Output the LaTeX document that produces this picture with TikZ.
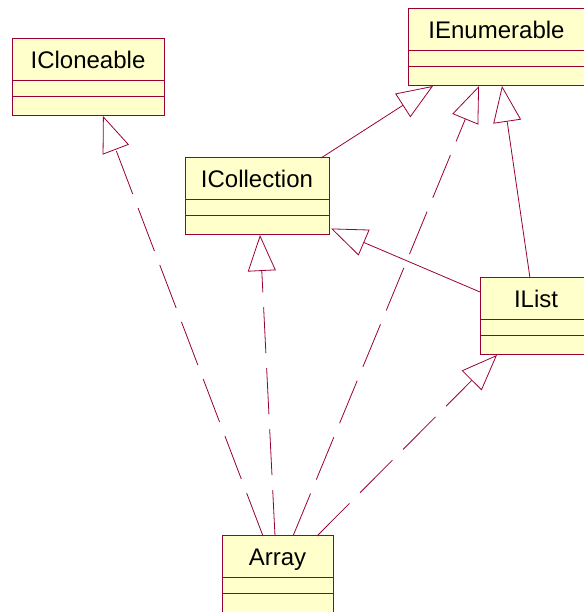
\documentclass[tikz,border=0pt]{standalone}
\usepackage{fontspec}
\setmainfont{Liberation Sans}
\usepackage{xcolor}
\usetikzlibrary{arrows.meta, positioning}

\definecolor{umlred}{HTML}{990033}
\definecolor{umlfill}{HTML}{FFFFCC}

\begin{document}
\begin{tikzpicture}[
    x=1pt, y=1pt,
    cls/.style={rectangle, draw=umlred, fill=umlfill, line width=1pt, outer sep=0pt, inner sep=0pt, minimum height=42pt, text height=17pt, text depth=0pt, font=\fontsize{24}{28}\selectfont},
    cmp/.style={rectangle, draw=umlred, fill=umlfill, line width=1pt, outer sep=0pt, inner sep=0pt, minimum height=16pt},
    cmpb/.style={cmp, minimum height=19pt},
    gen/.style={-{Triangle[open, length=36pt, width=28pt]}, draw=umlred, line width=0.8pt},
    impl/.style={gen, dash pattern=on 46pt off 15pt},
]
    \useasboundingbox (0,0) rectangle (583,612);

    % Interfaces
    \node[cls, minimum width=152pt] (clone) at (88,552) {ICloneable};
    \node[cmp, minimum width=152pt, below=0pt of clone] (clone1) {};
    \node[cmpb, minimum width=152pt, below=0pt of clone1] (clone2) {};

    \node[cls, minimum width=177pt] (enum) at (496.5,582) {IEnumerable};
    \node[cmp, minimum width=177pt, below=0pt of enum] (enum1) {};
    \node[cmpb, minimum width=177pt, below=0pt of enum1] (enum2) {};

    \node[cls, minimum width=144pt] (coll) at (257,433) {ICollection};
    \node[cmp, minimum width=144pt, below=0pt of coll] (coll1) {};
    \node[cmpb, minimum width=144pt, below=0pt of coll1] (coll2) {};

    \node[cls, minimum width=112pt] (list) at (536,313) {IList};
    \node[cmp, minimum width=112pt, below=0pt of list] (list1) {};
    \node[cmpb, minimum width=112pt, below=0pt of list1] (list2) {};

    % Class
    \node[cls, minimum width=111pt] (array) at (277.5,55) {Array};
    \node[cmp, minimum width=111pt, below=0pt of array] (array1) {};
    \node[cmpb, minimum width=111pt, below=0pt of array1] (array2) {};

    % Generalizations
    \draw[gen] ([xshift=136pt]coll.north west) -- ([xshift=25pt]enum2.south west);
    \draw[gen] ([xshift=50pt]list.north west) -- ([xshift=94pt]enum2.south west);
    \draw[gen] ([yshift=7pt]list.west) -- ([xshift=2pt, yshift=-3pt]coll2.east);

    % Realizations
    \draw[impl] ([xshift=41pt]array.north west) -- ([xshift=91pt]clone2.south west);
    \draw[impl] ([xshift=53pt]array.north west) -- ([xshift=75pt]coll2.south west);
    \draw[impl] ([xshift=71pt]array.north west) -- ([xshift=71pt]enum2.south west);
    \draw[impl] ([xshift=95pt]array.north west) -- ([xshift=17pt]list2.south west);
\end{tikzpicture}
\end{document}
